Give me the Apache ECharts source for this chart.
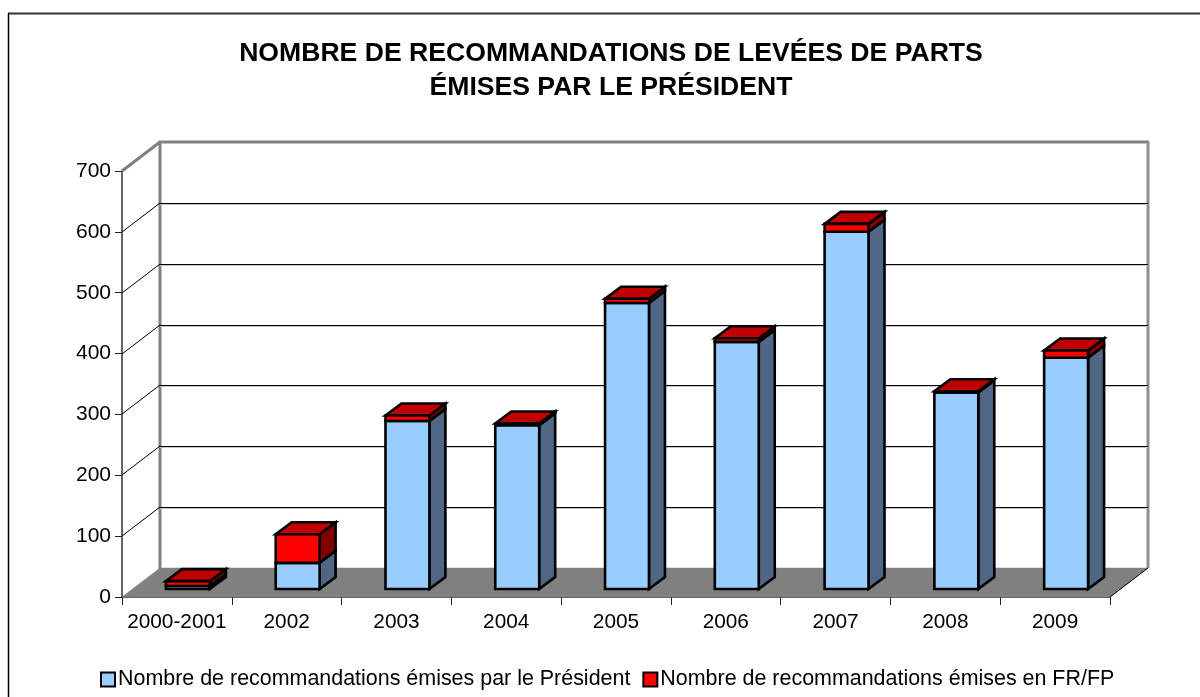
<!DOCTYPE html>
<html><head><meta charset="utf-8">
<style>html,body{margin:0;padding:0;background:#fff}#c{width:1200px;height:697px}</style>
<script src="https://cdn.jsdelivr.net/npm/echarts@6/dist/echarts.min.js"></script>
</head><body><div id="c"></div>
<script>
const categories = ['2000-2001','2002','2003','2004','2005','2006','2007','2008','2009'];
const presidentValues = [5,43,276,269,470,406,587,323,380];
const frFpValues = [8,47,9,3,7,6,13,2,12];
const wallTicks = [100,200,300,400,500,600,700];
const titleLines = 'NOMBRE DE RECOMMANDATIONS DE LEVÉES DE PARTS\nÉMISES PAR LE PRÉSIDENT';
const presidentName = 'Nombre de recommandations émises par le Président';
const frFpName = 'Nombre de recommandations émises en FR/FP';

const FONT = '"Liberation Sans", Arial, sans-serif';
const WALL_DX = 38, WALL_DY = -29;      // depth of the 3D box
const BAR_DX = 11, BAR_DY = -8;         // bar front plane offset in the box
const DEPTH_DX = 16, DEPTH_DY = -12;    // bar depth
const BAR_RATIO = 0.4;

function poly(points, fill, stroke, lw) {
  return {type:'polygon', shape:{points}, style:{fill, stroke:stroke||'#000', lineWidth:lw==null?2.6:lw, lineJoin:'miter'}};
}
function seg(a, b, stroke, lw) {
  return {type:'line', shape:{x1:a[0],y1:a[1],x2:b[0],y2:b[1]}, style:{stroke, lineWidth:lw}};
}

function renderBox(params, api) {
  const n = categories.length;
  const o = api.coord([0,0]);
  const bl = [o[0]-api.size([1,0])[0]/2, o[1]];
  const w = api.size([1,0])[0]*n;
  const top = api.coord([0,700])[1];
  const x0 = bl[0]+WALL_DX, x1 = bl[0]+w+WALL_DX, yb = o[1]+WALL_DY, yt = top+WALL_DY;
  const g = [];
  g.push({type:'rect', shape:{x:x0,y:yt,width:x1-x0,height:yb-yt}, style:{fill:'#fff'}});
  g.push(seg([x0,yb+1],[x0,yt],'#808080',3));
  g.push(seg([x0-1,yt],[x1+1,yt],'#808080',3));
  g.push(seg([x1,yt],[x1,yb],'#909090',3));
  g.push(poly([bl,[bl[0]+w,o[1]],[x1,yb],[x0,yb]],'#808080','#808080',0.5));
  g.push(seg([bl[0]+w,o[1]],[x1,yb],'#000',1));
  return {type:'group', children:g};
}
function renderWall(params, api) {
  const v = api.value(0);
  const n = categories.length;
  const c0 = api.coord([0,v]);
  const cw = api.size([1,0])[0];
  const xl = c0[0]-cw/2, y = Math.round(c0[1]);
  const x0 = xl+WALL_DX, x1 = xl+cw*n+WALL_DX, yb = y+WALL_DY;
  const isTop = v === 700;
  const g = [seg([xl,y],[x0,yb], isTop?'#808080':'#000', isTop?3:1)];
  if (!isTop) {
    g.push(seg([x0,yb+1.5],[x1,yb+1.5],'#c8c8c8',1));
    g.push(seg([x0,yb+0.5],[x1,yb+0.5],'#000',1));
  }
  return {type:'group', children:g};
}
function barFaces(api, fillFront, fillSide, fillTop) {
  const i = api.value(0), lo = api.value(1), hi = api.value(2);
  const cw = api.size([1,0])[0], bw = cw*BAR_RATIO;
  const pLo = api.coord([i,lo]), pHi = api.coord([i,hi]);
  const xl = pLo[0]+BAR_DX-bw/2, xr = xl+bw;
  const yb = pLo[1]+BAR_DY, yt = pHi[1]+BAR_DY;
  const g = [];
  g.push(poly([[xr,yb],[xr+DEPTH_DX,yb+DEPTH_DY],[xr+DEPTH_DX,yt+DEPTH_DY],[xr,yt]],fillSide));
  if (fillTop) g.push(poly([[xl,yt],[xr,yt],[xr+DEPTH_DX,yt+DEPTH_DY],[xl+DEPTH_DX,yt+DEPTH_DY]],fillTop));
  g.push(poly([[xl,yb],[xr,yb],[xr,yt],[xl,yt]],fillFront));
  return {type:'group', children:g};
}

const chart = echarts.init(document.getElementById('c'), null, {renderer:'canvas'});
chart.setOption({
  animation:false,
  backgroundColor:'#fff',
  title:{text:titleLines, left:606, top:32, textAlign:'center',
    textStyle:{fontFamily:FONT,fontWeight:'bold',fontSize:26.6,lineHeight:34,color:'#000'}},
  graphic:[
    {type:'line',silent:true,z:-1,shape:{x1:8,y1:13.5,x2:1200,y2:13.5},style:{stroke:'#333',lineWidth:2}},
    {type:'line',silent:true,z:-1,shape:{x1:8.5,y1:13,x2:8.5,y2:697},style:{stroke:'#000',lineWidth:1.5}}
  ],
  legend:{left:100,top:669,itemWidth:14,itemHeight:14,itemGap:12,padding:0,selectedMode:false,
    data:[{name:presidentName,icon:'rect'},{name:frFpName,icon:'rect'}],
    textStyle:{fontFamily:FONT,fontSize:21.45,color:'#000',padding:[0,0,0,-2]}},
  grid:{left:122,right:90,top:171,bottom:100,containLabel:false},
  xAxis:{type:'category',data:categories,boundaryGap:true,
    axisLine:{lineStyle:{color:'#222',width:1.5}},
    axisTick:{show:true,length:8,alignWithLabel:false,lineStyle:{color:'#222',width:1}},
    axisLabel:{interval:0,fontFamily:FONT,fontSize:20.8,color:'#000',margin:15}},
  yAxis:{type:'value',min:0,max:700,interval:100,
    axisLine:{show:true,lineStyle:{color:'#333',width:1.5}},
    axisTick:{show:true,length:7,lineStyle:{color:'#222',width:1}},
    splitLine:{show:false},
    axisLabel:{fontFamily:FONT,fontSize:21,color:'#000',margin:11}},
  series:[
    {type:'custom',name:'box',z:1,renderItem:renderBox,data:[[0]],silent:true,encode:{x:0}},
    {type:'custom',name:'wall',z:1.5,renderItem:renderWall,data:wallTicks.map(v=>[v]),silent:true},
    {type:'custom',name:presidentName,z:3,itemStyle:{color:'#99CCFF',borderColor:'#000',borderWidth:3},
      renderItem:(p,api)=>barFaces(api,'#99CCFF','#4F6685',null),
      data:categories.map((c,i)=>[i,0,presidentValues[i]]),encode:{x:0,y:2}},
    {type:'custom',name:frFpName,z:4,itemStyle:{color:'#FF0000',borderColor:'#000',borderWidth:3},
      renderItem:(p,api)=>barFaces(api,'#FF0000','#800000','#C00000'),
      data:categories.map((c,i)=>[i,presidentValues[i],presidentValues[i]+frFpValues[i]]),encode:{x:0,y:2}}
  ]
});
</script></body></html>
